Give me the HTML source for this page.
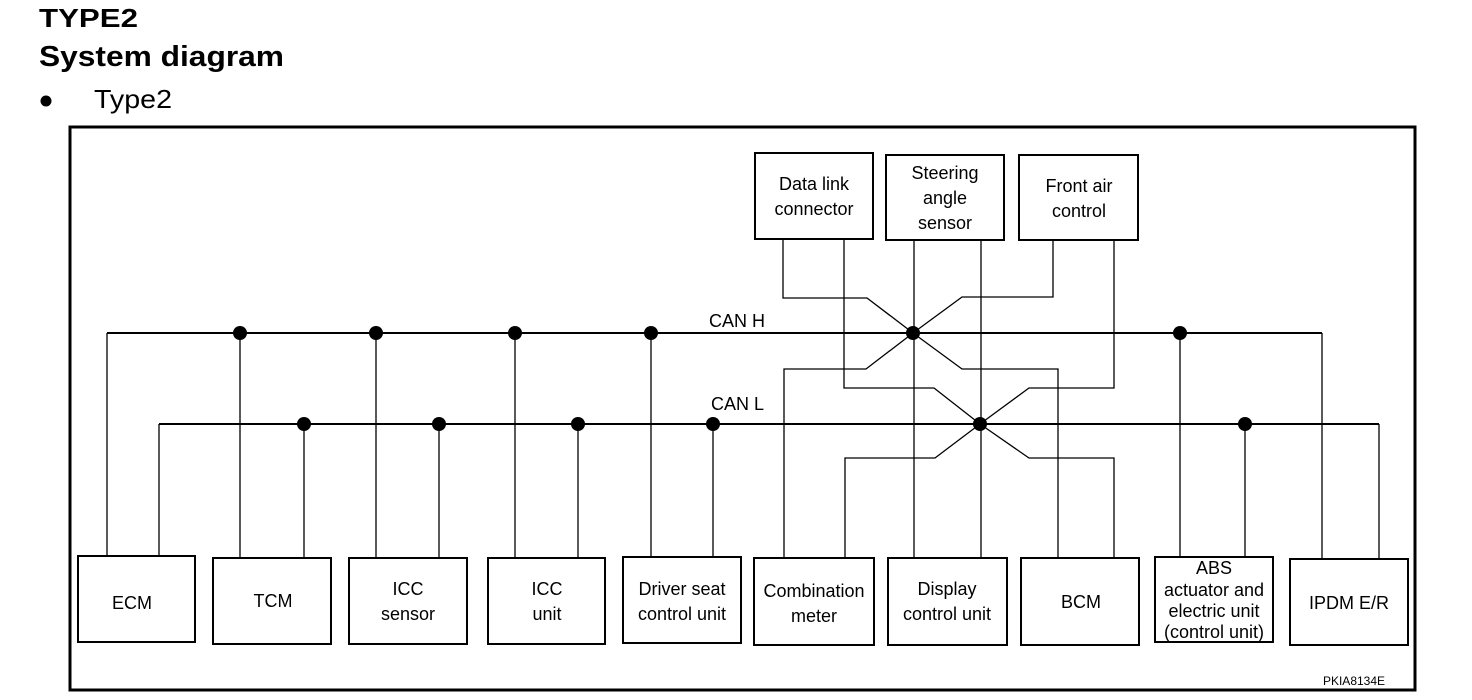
<!DOCTYPE html>
<html><head><meta charset="utf-8"><style>
html,body{margin:0;padding:0;background:#fff;}
svg{display:block;}
text{font-family:"Liberation Sans",Arial,sans-serif;fill:#000;}
</style></head><body>
<svg width="1472" height="700" viewBox="0 0 1472 700" xmlns="http://www.w3.org/2000/svg">
<text x="39" y="27" font-size="26" font-weight="bold" textLength="99" lengthAdjust="spacingAndGlyphs">TYPE2</text>
<text x="39" y="66" font-size="29" font-weight="bold" textLength="245" lengthAdjust="spacingAndGlyphs">System diagram</text>
<circle cx="46" cy="101" r="5.5" fill="#000"/>
<text x="94" y="108" font-size="26" textLength="78" lengthAdjust="spacingAndGlyphs">Type2</text>
<rect x="70" y="127" width="1345" height="563" fill="none" stroke="#000" stroke-width="3"/>
<g fill="none" stroke="#000" stroke-width="2">
<line x1="107" y1="333" x2="1322" y2="333"/>
<line x1="159" y1="424" x2="1379" y2="424"/>
</g>
<g fill="none" stroke="#000" stroke-width="1.3">
<polyline points="107,333 107,556"/>
<polyline points="159,424 159,556"/>
<line x1="240" y1="333" x2="240" y2="558"/>
<line x1="304" y1="424" x2="304" y2="558"/>
<line x1="376" y1="333" x2="376" y2="558"/>
<line x1="439" y1="424" x2="439" y2="558"/>
<line x1="515" y1="333" x2="515" y2="558"/>
<line x1="578" y1="424" x2="578" y2="558"/>
<line x1="651" y1="333" x2="651" y2="558"/>
<line x1="713" y1="424" x2="713" y2="558"/>
<line x1="1180" y1="333" x2="1180" y2="558"/>
<line x1="1245" y1="424" x2="1245" y2="558"/>
<polyline points="1322,333 1322,558"/>
<polyline points="1379,424 1379,558"/>
<polyline points="783,239 783,298 867,298 913,333"/>
<polyline points="844,239 844,388 934,388 980,424"/>
<line x1="914" y1="240" x2="914" y2="558"/>
<line x1="981" y1="240" x2="981" y2="558"/>
<polyline points="1053,240 1053,297 962,297 913,333"/>
<polyline points="1114,240 1114,388 1029,388 980,424"/>
<polyline points="784,558 784,369 866,369 913,333"/>
<polyline points="913,333 962,369 1058,369 1058,558"/>
<polyline points="1114,558 1114,458 1029,458 980,424"/>
<polyline points="980,424 935,458 845,458 845,558"/>
</g>
<g fill="#000">
<circle cx="240" cy="333" r="7"/><circle cx="376" cy="333" r="7"/><circle cx="515" cy="333" r="7"/><circle cx="651" cy="333" r="7"/><circle cx="913" cy="333" r="7"/><circle cx="1180" cy="333" r="7"/>
<circle cx="304" cy="424" r="7"/><circle cx="439" cy="424" r="7"/><circle cx="578" cy="424" r="7"/><circle cx="713" cy="424" r="7"/><circle cx="980" cy="424" r="7"/><circle cx="1245" cy="424" r="7"/>
</g>
<text x="709" y="327" font-size="18">CAN H</text>
<text x="711" y="410" font-size="18">CAN L</text>
<g fill="#fff" stroke="#000" stroke-width="2">
<rect x="755" y="153" width="118" height="86"/>
<rect x="886" y="155" width="118" height="85"/>
<rect x="1019" y="155" width="119" height="85"/>
<rect x="78" y="556" width="117" height="86"/>
<rect x="213" y="558" width="118" height="86"/>
<rect x="349" y="558" width="118" height="86"/>
<rect x="488" y="558" width="117" height="86"/>
<rect x="623" y="557" width="118" height="86"/>
<rect x="754" y="558" width="120" height="87"/>
<rect x="888" y="558" width="119" height="87"/>
<rect x="1021" y="558" width="118" height="87"/>
<rect x="1155" y="557" width="118" height="85"/>
<rect x="1290" y="559" width="118" height="86"/>
</g>
<g font-size="18" text-anchor="middle">
<text x="814" y="190">Data link</text><text x="814" y="215">connector</text>
<text x="945" y="179">Steering</text><text x="945" y="204">angle</text><text x="945" y="229">sensor</text>
<text x="1079" y="192">Front air</text><text x="1079" y="217">control</text>
<text x="132" y="609">ECM</text>
<text x="273" y="607">TCM</text>
<text x="408" y="595">ICC</text><text x="408" y="620">sensor</text>
<text x="547" y="595">ICC</text><text x="547" y="620">unit</text>
<text x="682" y="595">Driver seat</text><text x="682" y="620">control unit</text>
<text x="814" y="597">Combination</text><text x="814" y="622">meter</text>
<text x="947" y="595">Display</text><text x="947" y="620">control unit</text>
<text x="1081" y="608">BCM</text>
<text x="1214" y="574">ABS</text><text x="1214" y="596">actuator and</text><text x="1214" y="617">electric unit</text><text x="1214" y="638">(control unit)</text>
<text x="1349" y="609">IPDM E/R</text>
</g>
<text x="1354" y="685" font-size="12" text-anchor="middle">PKIA8134E</text>
</svg>
</body></html>
